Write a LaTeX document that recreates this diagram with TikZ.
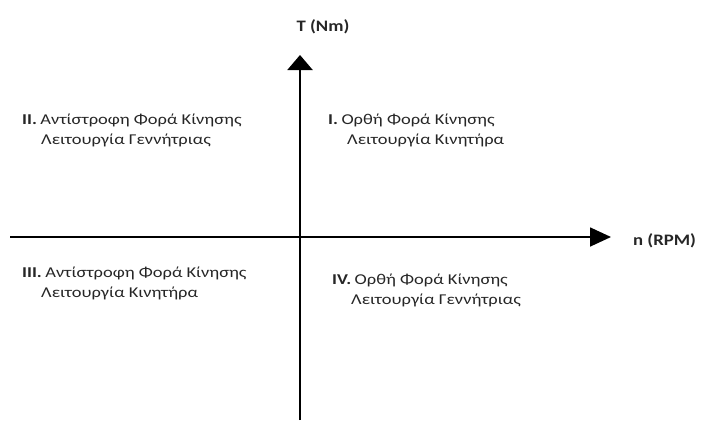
\documentclass[tikz,border=0pt]{standalone}
\usepackage{fontspec}
\setmainfont{Carlito}
\usetikzlibrary{arrows.meta}
\definecolor{txt}{HTML}{262626}
\newcommand{\widetxt}[1]{\scalebox{1.23}[1]{#1}}
\newcommand{\wideax}[1]{\scalebox{1.17}[1]{#1}}
\begin{document}
\begin{tikzpicture}[x=1pt,y=-1pt,
  axis/.style={draw=black,line width=2.2pt},
  lbl/.style={anchor=base west,inner sep=0pt,text=txt,font=\fontsize{15}{17}\selectfont},
  num/.style={anchor=base west,inner sep=0pt,text=txt,font=\bfseries\fontsize{15}{17}\selectfont},
  axlbl/.style={inner sep=0pt,text=txt,font=\bfseries\fontsize{16}{18}\selectfont}]
\useasboundingbox (0,0) rectangle (708,420);
\coordinate (vtop) at (300,55);
\coordinate (vbot) at (300,420);
\coordinate (hl) at (10,237);
\coordinate (hr) at (611,237);
\draw[axis,-{Triangle[length=15pt,width=25pt]}] (vbot) -- (vtop);
\draw[axis,line width=1.7pt,-{Triangle[length=21pt,width=19pt]}] (hl) -- (hr);
\node[axlbl,anchor=base] (T) at (323,32) {\wideax{T (Nm)}};
\node[axlbl,anchor=base west] (n) at (633,245) {\wideax{n (RPM)}};
% Quadrant II
\node[num] (q2n) at (22,124) {\widetxt{II.}};
\node[lbl,anchor=base west] (q2a) at (q2n.base east) {\widetxt{\,Αντίστροφη Φορά Κίνησης}};
\node[lbl] (q2b) at (41,144) {\widetxt{Λειτουργία Γεννήτριας}};
% Quadrant I
\node[num] (q1n) at (328,124) {\widetxt{I.}};
\node[lbl,anchor=base west] (q1a) at (q1n.base east) {\widetxt{\,Ορθή Φορά Κίνησης}};
\node[lbl] (q1b) at (347,144) {\widetxt{Λειτουργία Κινητήρα}};
% Quadrant III
\node[num] (q3n) at (22,277) {\widetxt{III.}};
\node[lbl,anchor=base west] (q3a) at (q3n.base east) {\widetxt{\,Αντίστροφη Φορά Κίνησης}};
\node[lbl] (q3b) at (41,297) {\widetxt{Λειτουργία Κινητήρα}};
% Quadrant IV
\node[num] (q4n) at (332,284) {\widetxt{IV.}};
\node[lbl,anchor=base west] (q4a) at (q4n.base east) {\widetxt{\,Ορθή Φορά Κίνησης}};
\node[lbl] (q4b) at (351,304) {\widetxt{Λειτουργία Γεννήτριας}};
\end{tikzpicture}
\end{document}
